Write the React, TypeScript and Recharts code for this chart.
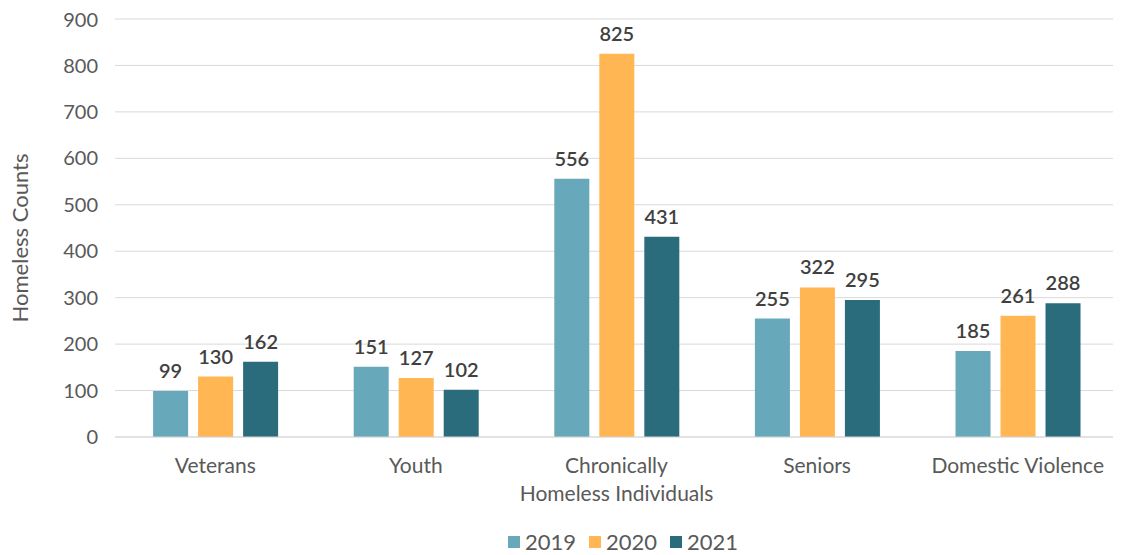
import { BarChart, Bar, XAxis, YAxis, CartesianGrid, Legend, LabelList } from "recharts";

const categories = ["Veterans", "Youth", "Chronically\nHomeless Individuals", "Seniors", "Domestic Violence"];
const counts2019 = [99, 151, 556, 255, 185];
const counts2020 = [130, 127, 825, 322, 261];
const counts2021 = [162, 102, 431, 295, 288];
const yTicks = [0, 100, 200, 300, 400, 500, 600, 700, 800, 900];
const seriesNames = ["2019", "2020", "2021"];
const seriesColors = ["#67a8ba", "#ffb653", "#2a6b7c"];

const data = categories.map((name, i) => ({
  name,
  y2019: counts2019[i],
  y2020: counts2020[i],
  y2021: counts2021[i],
}));

const FONT = "Lato, 'Noto Sans', sans-serif";

const CategoryTick = ({ x, y, payload }: any) => {
  const lines = String(payload.value).split("\n");
  return (
    <text x={x} y={y} textAnchor="middle" fill="#595959" fontSize={21} fontFamily={FONT}>
      {lines.map((line: string, i: number) => (
        <tspan key={i} x={x} dy={28}>
          {line}
        </tspan>
      ))}
    </text>
  );
};

// rotated y-axis title, placed by hand like the original
const AxisTitle = () => (
  <g transform="translate(11 230) rotate(-90)">
    <text x={0} y={0} textAnchor="middle" dominantBaseline="central" fill="#595959" fontSize={22} fontFamily={FONT}>
      Homeless Counts
    </text>
  </g>
);

const LegendContent = () => (
  <div style={{ display: "flex", paddingLeft: 500, fontFamily: FONT, fontSize: 22, color: "#595959" }}>
    {seriesNames.map((s, i) => (
      <div key={s} style={{ display: "flex", alignItems: "center", marginRight: 13 }}>
        <span style={{ width: 12, height: 12, background: seriesColors[i], marginRight: 5, display: "inline-block" }} />
        <span>{s}</span>
      </div>
    ))}
  </div>
);

const labelStyle = { fill: "#404040", fontSize: 20, fontFamily: FONT, fontWeight: 600 };

export default function App() {
  return (
    <div style={{ width: 1113, height: 547, fontFamily: FONT }}>
      <BarChart
        width={1113}
        height={547}
        data={data}
        margin={{ top: 11, right: 3, bottom: 0, left: 0 }}
        barCategoryGap="19%"
        barGap={10}
      >
        <CartesianGrid vertical={false} stroke="#d9d9d9" />
        <XAxis
          dataKey="name"
          tick={<CategoryTick />}
          tickLine={false}
          axisLine={{ stroke: "#d9d9d9" }}
          interval={0}
          height={79}
        />
        <YAxis
          domain={[0, 900]}
          ticks={yTicks}
          width={107}
          axisLine={false}
          tickLine={false}
          tickMargin={11}
          tick={{ fill: "#595959", fontSize: 20, fontFamily: FONT }}
          label={<AxisTitle />}
        />
        <Legend verticalAlign="bottom" content={<LegendContent />} wrapperStyle={{ paddingTop: 12 }} />
        <Bar dataKey="y2019" name="2019" fill={seriesColors[0]} isAnimationActive={false}>
          <LabelList dataKey="y2019" position="top" offset={13} style={labelStyle} />
        </Bar>
        <Bar dataKey="y2020" name="2020" fill={seriesColors[1]} isAnimationActive={false}>
          <LabelList dataKey="y2020" position="top" offset={13} style={labelStyle} />
        </Bar>
        <Bar dataKey="y2021" name="2021" fill={seriesColors[2]} isAnimationActive={false}>
          <LabelList dataKey="y2021" position="top" offset={13} style={labelStyle} />
        </Bar>
      </BarChart>
    </div>
  );
}
